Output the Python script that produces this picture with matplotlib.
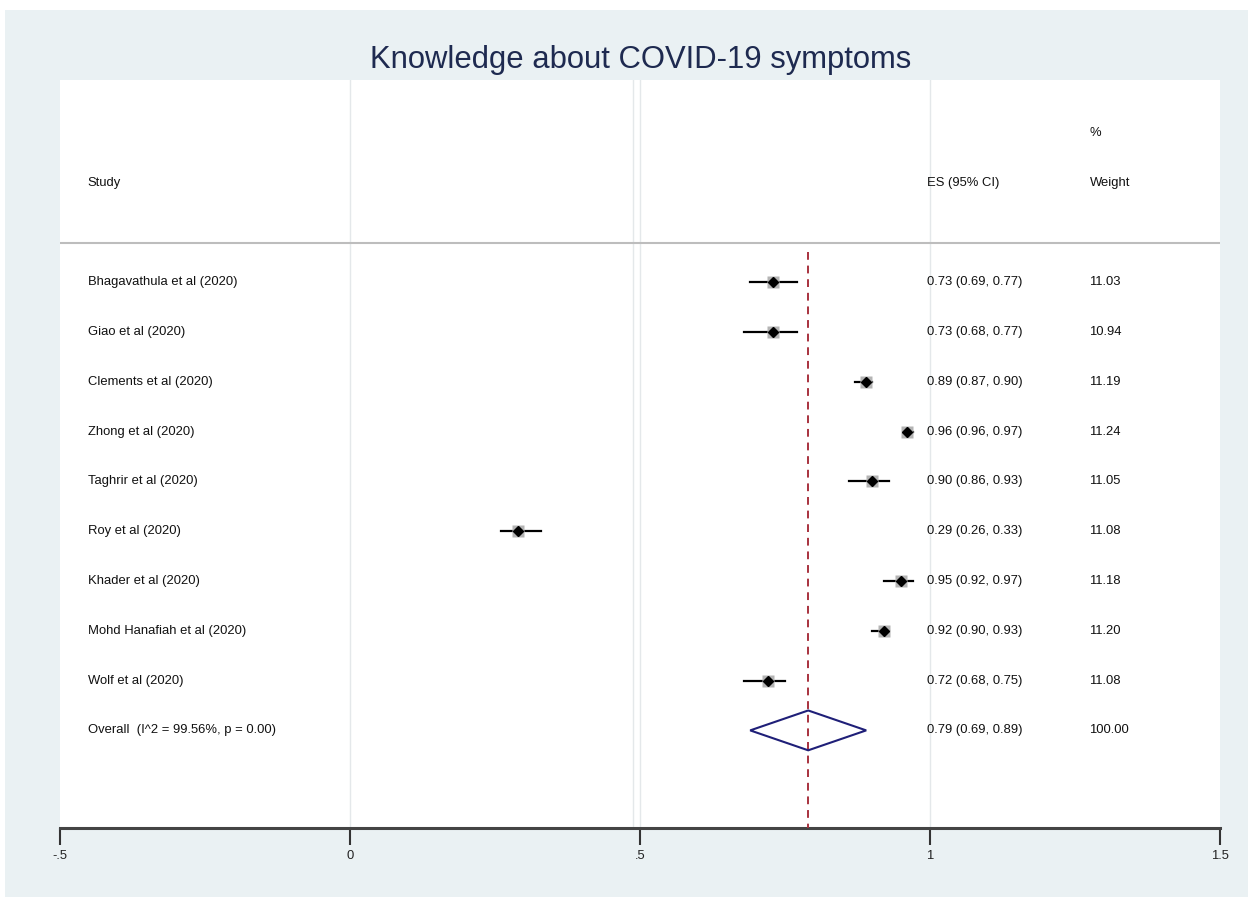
import matplotlib
matplotlib.use("Agg")
import matplotlib.pyplot as plt
from matplotlib.patches import Rectangle, Polygon

plt.rcParams['font.family'] = ['Liberation Sans', 'DejaVu Sans']

studies = ["Bhagavathula et al (2020)", "Giao et al (2020)", "Clements et al (2020)",
           "Zhong et al (2020)", "Taghrir et al (2020)", "Roy et al (2020)",
           "Khader et al (2020)", "Mohd Hanafiah et al (2020)", "Wolf et al (2020)"]
es = [0.73, 0.73, 0.89, 0.96, 0.90, 0.29, 0.95, 0.92, 0.72]
lo = [0.69, 0.68, 0.87, 0.96, 0.86, 0.26, 0.92, 0.90, 0.68]
hi = [0.77, 0.77, 0.90, 0.97, 0.93, 0.33, 0.97, 0.93, 0.75]
weights = [11.03, 10.94, 11.19, 11.24, 11.05, 11.08, 11.18, 11.20, 11.08]

overall_label = "Overall  (I^2 = 99.56%, p = 0.00)"
overall_es, overall_lo, overall_hi = 0.79, 0.69, 0.89
overall_weight = 100.00

xticks = [-0.5, 0, 0.5, 1, 1.5]
xticklabels = ["-.5", "0", ".5", "1", "1.5"]

fig = plt.figure(figsize=(12.48, 8.97), dpi=100, facecolor="white")
# light background panel (Stata style)
fig.patches.append(Rectangle((5 / 1248, 0), 1, 1 - 10 / 897, transform=fig.transFigure,
                             facecolor="#EAF1F3", edgecolor="none", zorder=-5))

ax = fig.add_axes([60 / 1248, 69 / 897, 1160 / 1248, 748 / 897])
ax.set_zorder(1)
ax.set_facecolor("white")
ax.set_xlim(-0.5, 1.5)
ax.set_ylim(10.96, -4.06)

fig.text(0.513, 0.933, "Knowledge about COVID-19 symptoms", ha="center", va="center",
         fontsize=22.3, color="#1E2A50", zorder=2)

# grid lines
for t in [0, 0.5, 1]:
    ax.axvline(t, color="#E4E8EA", lw=1, zorder=1)
ax.axvline(0.488, color="#E4E8EA", lw=1, zorder=1)

# separator under header
ax.axhline(-0.78, color="#BDBDBD", lw=1.5, zorder=2)

# overall line
ax.plot([overall_es, overall_es], [-0.6, 10.96], color="#A8323E", lw=1.4,
        ls=(0, (4, 3)), zorder=3)

x_study = -0.452
x_es = 0.994
x_w = 1.275
fs = 9.4
tc = "#111111"

ax.text(x_study, -2.0, "Study", fontsize=fs, va="center", color=tc)
ax.text(x_es, -2.0, "ES (95% CI)", fontsize=fs, va="center", color=tc)
ax.text(x_w, -2.0, "Weight", fontsize=fs, va="center", color=tc)
ax.text(x_w, -3.0, "%", fontsize=fs, va="center", color=tc)

for i in range(len(studies)):
    ax.plot([lo[i], hi[i]], [i, i], color="black", lw=1.6, zorder=4)
    ax.plot(es[i], i, marker="s", ms=8, color="#B4B4B4", mec="none", zorder=5)
    ax.plot(es[i], i, marker="D", ms=5, color="black", zorder=6)
    ax.text(x_study, i, studies[i], fontsize=fs, va="center", color=tc)
    ax.text(x_es, i, "%.2f (%.2f, %.2f)" % (es[i], lo[i], hi[i]), fontsize=fs,
            va="center", color=tc)
    ax.text(x_w, i, "%.2f" % weights[i], fontsize=fs, va="center", color=tc)

k = len(studies)
diamond = Polygon([[overall_lo, k], [overall_es, k - 0.4], [overall_hi, k], [overall_es, k + 0.4]],
                  closed=True, facecolor="none", edgecolor="#1F1F78", lw=1.5, zorder=5)
ax.add_patch(diamond)
ax.text(x_study, k, overall_label, fontsize=fs, va="center", color=tc)
ax.text(x_es, k, "%.2f (%.2f, %.2f)" % (overall_es, overall_lo, overall_hi), fontsize=fs,
        va="center", color=tc)
ax.text(x_w, k, "%.2f" % overall_weight, fontsize=fs, va="center", color=tc)

for s in ["top", "left", "right"]:
    ax.spines[s].set_visible(False)
ax.spines["bottom"].set_color("#444444")
ax.spines["bottom"].set_linewidth(2.2)
ax.set_yticks([])
ax.set_xticks(xticks)
ax.set_xticklabels(xticklabels, fontsize=fs, color="#222222")
ax.tick_params(axis="x", direction="out", length=12, width=1.5, color="#333333", pad=4)

fig.savefig("out.png", dpi=100, facecolor=fig.get_facecolor())
